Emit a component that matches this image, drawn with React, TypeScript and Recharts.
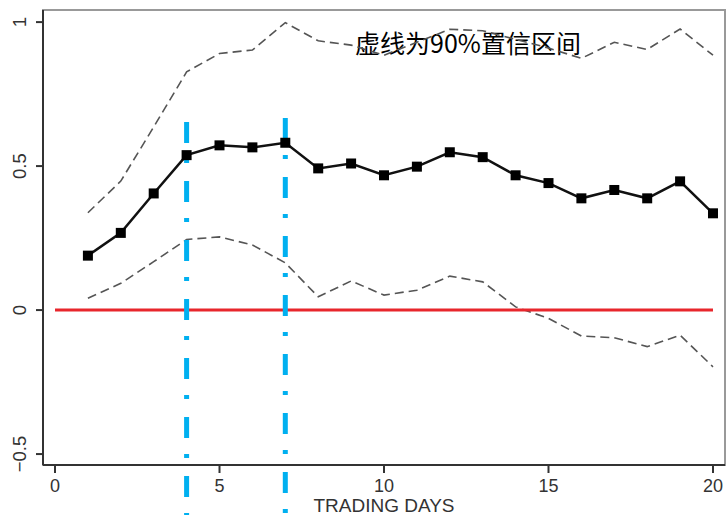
import React from 'react';
import {
  ComposedChart, Line, XAxis, YAxis, ReferenceLine, ReferenceArea
} from 'recharts';

const days = [1, 2, 3, 4, 5, 6, 7, 8, 9, 10, 11, 12, 13, 14, 15, 16, 17, 18, 19, 20];
const effect = [0.189, 0.268, 0.405, 0.538, 0.572, 0.565, 0.581, 0.492, 0.509, 0.468,
  0.498, 0.548, 0.531, 0.468, 0.441, 0.388, 0.417, 0.388, 0.447, 0.336];
const upper = [0.338, 0.448, 0.636, 0.827, 0.891, 0.903, 0.998, 0.935, 0.92, 0.885,
  0.93, 0.975, 0.97, 0.94, 0.91, 0.874, 0.93, 0.905, 0.976, 0.885];
const lower = [0.041, 0.093, 0.168, 0.245, 0.254, 0.226, 0.164, 0.046, 0.101, 0.052,
  0.069, 0.118, 0.098, 0.011, -0.029, -0.09, -0.096, -0.127, -0.087, -0.197];

const xTicks = [0, 5, 10, 15, 20];
const yTicks = [-0.5, 0, 0.5, 1];
// blue dash-dot markers: [day, top value]
const markers = [[4, 0.653], [7, 0.667]];

const X_DOMAIN: [number, number] = [-0.365, 20.365];
const Y_DOMAIN: [number, number] = [-0.538, 1.042];

const data = days.map((d, i) => ({ day: d, effect: effect[i], upper: upper[i], lower: lower[i] }));

const SquareDot = (props: any) => {
  const { cx, cy } = props;
  if (cx == null || cy == null) return null;
  return <rect x={cx - 5} y={cy - 5} width={10} height={10} fill="#000" />;
};

const YTick = (props: any) => {
  const { y, payload } = props;
  return (
    <text x={26} y={y} transform={`rotate(-90, 26, ${y})`} textAnchor="middle"
      fontSize={18.5} fill="#333" fontFamily="Liberation Sans, Arial, sans-serif">
      {payload.value === -0.5 ? '\u22120.5' : String(payload.value)}
    </text>
  );
};

const XTick = (props: any) => {
  const { x, payload } = props;
  return (
    <text x={x} y={492} textAnchor="middle" fontSize={18} fill="#333"
      fontFamily="Liberation Sans, Arial, sans-serif">
      {payload.value}
    </text>
  );
};

const App: React.FC = () => {
  return (
    <div style={{ position: 'absolute', left: 0, top: 0, width: 726, height: 515, background: '#fff' }}>
      <ComposedChart width={726} height={515} data={data}
        margin={{ top: 10, right: 1, left: 0, bottom: 0 }}>
        <XAxis dataKey="day" type="number" domain={X_DOMAIN} ticks={xTicks}
          allowDataOverflow height={50} tickSize={8} tick={<XTick />}
          axisLine={{ stroke: '#333', strokeWidth: 2 }} tickLine={{ stroke: '#333', strokeWidth: 2 }}
          label={{ value: 'TRADING DAYS', position: 'insideBottom', offset: 3, fontSize: 19, fill: '#333',
            fontFamily: 'Liberation Sans, Arial, sans-serif' }} />
        <YAxis type="number" domain={Y_DOMAIN} ticks={yTicks} allowDataOverflow width={43}
          tickSize={7} tick={<YTick />}
          axisLine={{ stroke: '#333', strokeWidth: 2 }} tickLine={{ stroke: '#333', strokeWidth: 2 }} />
        <ReferenceArea x1={X_DOMAIN[0]} x2={X_DOMAIN[1]} y1={Y_DOMAIN[0]} y2={Y_DOMAIN[1]}
          fill="none" stroke="#999" strokeWidth={2} fillOpacity={0} />
        <Line dataKey="upper" stroke="#555" strokeWidth={1.6} strokeDasharray="9 5" dot={false}
          isAnimationActive={false} />
        <Line dataKey="lower" stroke="#555" strokeWidth={1.6} strokeDasharray="9 5" dot={false}
          isAnimationActive={false} />
        <ReferenceLine segment={[{ x: 0, y: 0 }, { x: 20, y: 0 }]} stroke="#e8262c" strokeWidth={3} />
        {markers.map(([d, top]) => (
          <ReferenceLine key={d} segment={[{ x: d, y: top }, { x: d, y: -0.72 }]} ifOverflow="visible"
            stroke="#00b0f0" strokeWidth={5} strokeDasharray="21 16 4 18" />
        ))}
        <Line dataKey="effect" stroke="#111" strokeWidth={2.5} dot={<SquareDot />}
          isAnimationActive={false} />
        <text x={468} y={53} textAnchor="middle" fontSize={25} fill="#000"
          fontFamily="Noto Sans CJK SC, sans-serif">虚线为90%置信区间</text>
      </ComposedChart>
    </div>
  );
};

export default App;
